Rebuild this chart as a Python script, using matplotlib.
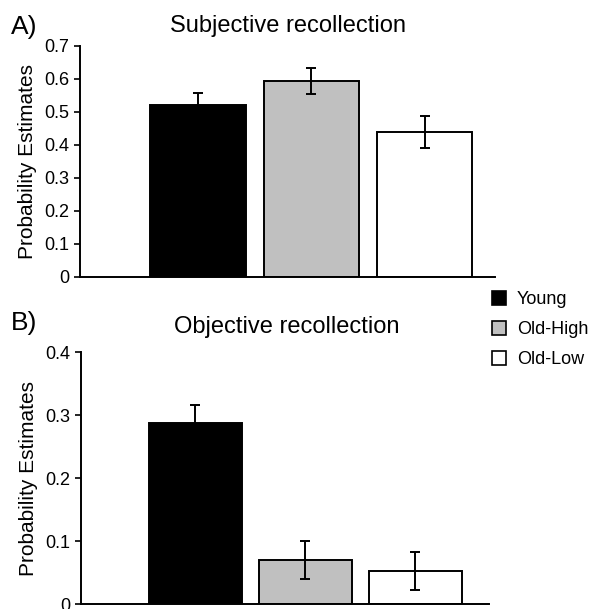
import numpy as np
import matplotlib.pyplot as plt
from matplotlib.patches import Patch

plt.rcParams['font.family'] = ['Liberation Sans', 'DejaVu Sans']

# Данные
groups = ['Young', 'Old-High', 'Old-Low']
colors = ['#000000', '#c0c0c0', '#ffffff']

subj_means = [0.521, 0.594, 0.439]
subj_err = [0.037, 0.040, 0.048]

obj_means = [0.287, 0.070, 0.053]
obj_err = [0.029, 0.030, 0.030]

subj_ticks = [0, 0.1, 0.2, 0.3, 0.4, 0.5, 0.6, 0.7]
subj_ticklabels = ['0', '0.1', '0.2', '0.3', '0.4', '0.5', '0.6', '0.7']
obj_ticks = [0, 0.1, 0.2, 0.3, 0.4]
obj_ticklabels = ['0', '0.1', '0.2', '0.3', '0.4']

fig = plt.figure(figsize=(5.91, 6.09), dpi=100)
ax1 = fig.add_axes([0.1354, 0.5452, 0.7022, 0.3793])
ax2 = fig.add_axes([0.1371, 0.0082, 0.6904, 0.4138])


def draw_panel(ax, means, errs, ticks, ticklabels, ymax, xlim):
    x = np.arange(len(means))
    ax.bar(x, means, width=0.84, color=colors, edgecolor='black', linewidth=1.4)
    ax.errorbar(x, means, yerr=errs, fmt='none', ecolor='black',
                elinewidth=1.4, capsize=3.5, capthick=1.4)
    ax.set_xlim(*xlim)
    ax.set_ylim(0, ymax)
    ax.set_yticks(ticks)
    ax.set_yticklabels(ticklabels)
    ax.set_xticks([])
    for s in ['top', 'right']:
        ax.spines[s].set_visible(False)
    for s in ['left', 'bottom']:
        ax.spines[s].set_linewidth(1.4)
    ax.tick_params(axis='y', direction='out', length=4, width=1.2,
                   labelsize=13, pad=4)
    ax.set_ylabel('Probability Estimates', fontsize=15, labelpad=5)


draw_panel(ax1, subj_means, subj_err, subj_ticks, subj_ticklabels, 0.7, (-1.04, 2.62))
draw_panel(ax2, obj_means, obj_err, obj_ticks, obj_ticklabels, 0.4, (-1.04, 2.67))

fig.text(0.487, 0.958, 'Subjective recollection', fontsize=17, ha='center', va='center')
fig.text(0.485, 0.463, 'Objective recollection', fontsize=17, ha='center', va='center')
fig.text(0.018, 0.955, 'A)', fontsize=19, ha='left', va='center')
fig.text(0.018, 0.469, 'B)', fontsize=19, ha='left', va='center')

handles = [Patch(facecolor=c, edgecolor='black', linewidth=1.2) for c in colors]
fig.legend(handles, groups, loc='upper left', bbox_to_anchor=(0.832, 0.522),
           frameon=False, fontsize=13, handlelength=0.8, handleheight=0.8,
           handletextpad=0.6, labelspacing=0.7, borderpad=0.0, borderaxespad=0.0)

fig.savefig('out.png', dpi=100)
